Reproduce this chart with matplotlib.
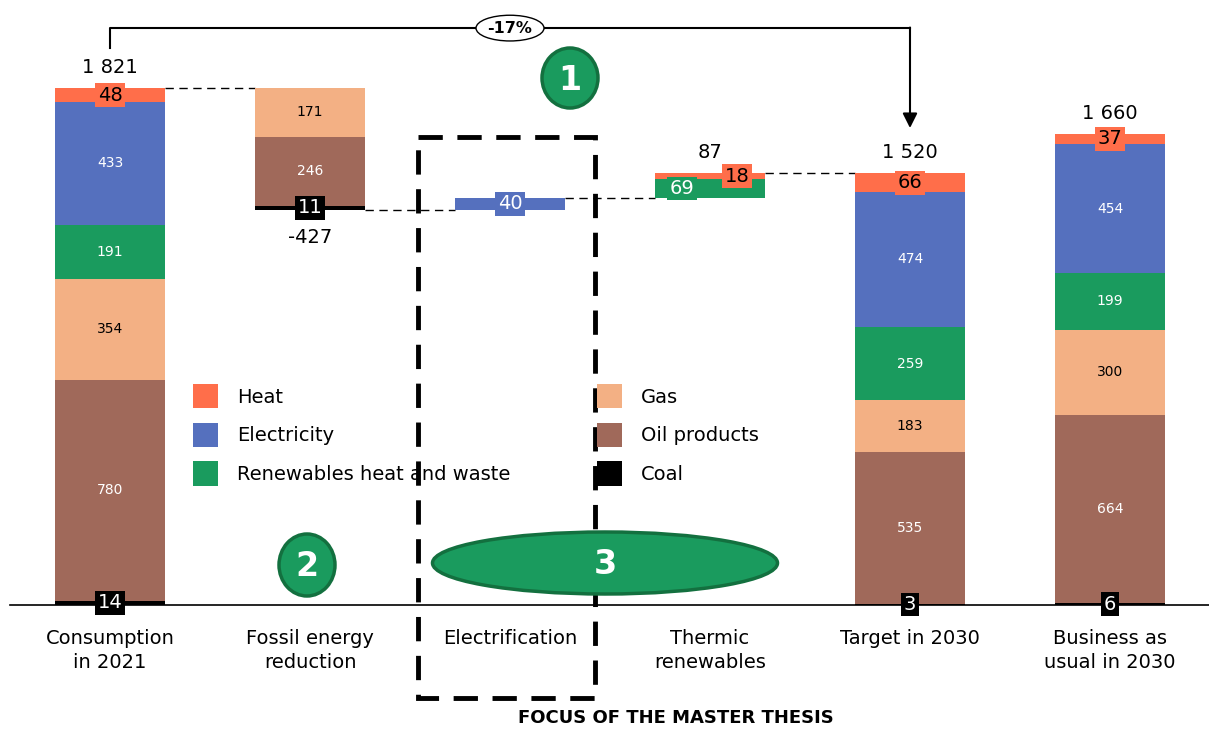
import numpy as np
import matplotlib
matplotlib.use("Agg")
import matplotlib.pyplot as plt
from matplotlib.patches import Ellipse, Rectangle, Patch

plt.rcParams["font.family"] = ["DejaVu Sans"]

#%% Datos
categorias = ["Consumption\nin 2021", "Fossil energy\nreduction", "Electrification",
              "Thermic\nrenewables", "Target in 2030", "Business as\nusual in 2030"]
fuentes = ["Coal", "Oil products", "Gas", "Renewables heat and waste", "Electricity", "Heat"]
colores = ["#000000", "#A0695A", "#F3B084", "#1A9B5E", "#5570BE", "#FF6E4A"]

# valores por fuente (orden de fuentes, de abajo hacia arriba)
consumo_2021 = [14, 780, 354, 191, 433, 48]
reduccion_fosil = [11, 246, 171, 0, 0, 0]
electrificacion = [0, 0, 0, 0, 40, 0]
renovables_termicas = [0, 0, 0, 69, 0, 18]
objetivo_2030 = [3, 535, 183, 259, 474, 66]
bau_2030 = [6, 664, 300, 199, 454, 37]

totales = [1821, -427, None, 87, 1520, 1660]
variacion = "-17%"

barras = [consumo_2021, reduccion_fosil, electrificacion, renovables_termicas, objetivo_2030, bau_2030]

#%% Niveles del waterfall
nivel = totales[0]
base_fosil = nivel - sum(reduccion_fosil)
base_elec = base_fosil
base_term = base_elec + sum(electrificacion)
bases = [0, base_fosil, base_elec, base_term, 0, 0]

#%% Grafico
fig = plt.figure(figsize=(12.09, 7.29), dpi=100)
ax = fig.add_axes([0, 0, 1, 1])
ax.set_xlim(-0.55, 5.495)
ax.set_ylim(-437, 2131)
ax.axis("off")

ancho = 0.55
texto_blanco = {1: "white", 2: "black", 3: "white", 4: "white"}
# desplazamiento horizontal de etiquetas en la barra de renovables termicas
desplazamiento = {(3, 3): -0.14, (3, 5): 0.135}

for i, valores in enumerate(barras):
    b = bases[i]
    for j, v in enumerate(valores):
        if v == 0:
            continue
        ax.bar(i, v, bottom=b, width=ancho, color=colores[j], edgecolor="none", zorder=2)
        yc = b + v / 2
        if v >= 100:
            ax.text(i, yc, str(v), ha="center", va="center", fontsize=10,
                    color=texto_blanco[j], zorder=4)
        else:
            color_txt = "black" if j == 5 else "white"
            ax.text(i + desplazamiento.get((i, j), 0), yc, str(v), ha="center", va="center",
                    fontsize=14, color=color_txt, zorder=5,
                    bbox=dict(boxstyle="square,pad=0.12", fc=colores[j], ec="none"))
        b += v

# totales
for i, t in enumerate(totales):
    if t is None:
        continue
    txt = f"{t:,}".replace(",", " ")
    if t > 0:
        top = bases[i] + sum(barras[i])
        if i == 0:
            top = t
        ax.annotate(txt, (i, top), xytext=(0, 8), textcoords="offset points",
                    ha="center", va="bottom", fontsize=14)
    else:
        ax.annotate(txt, (i, bases[i]), xytext=(0, -13), textcoords="offset points",
                    ha="center", va="top", fontsize=14)

# conectores
niveles = [totales[0], base_fosil, base_term, base_term + sum(renovables_termicas)]
for i, y in enumerate(niveles):
    ax.plot([i + ancho / 2, i + 1 - ancho / 2], [y, y], color="black", lw=1,
            ls=(0, (6, 4)), zorder=1)

# linea base
ax.plot([-0.5, 5.5], [0, 0], color="black", lw=1.2, zorder=3)

# categorias
for i, c in enumerate(categorias):
    ax.text(i, -85, c, ha="center", va="top", fontsize=14, linespacing=1.3)

# flecha -17%
ax.plot([0, 0, 4], [1962, 2032, 2032], color="black", lw=1.5)
ax.annotate("", xy=(4, 1680), xytext=(4, 2034),
            arrowprops=dict(arrowstyle="-|>", lw=1.5, color="black", mutation_scale=22,
                            shrinkA=0, shrinkB=0))
ax.text(2.0, 2032, variacion, ha="center", va="center", fontsize=11.5, fontweight="bold",
        bbox=dict(boxstyle="ellipse,pad=0.1", fc="white", ec="black", lw=1))

#%% Capa de anotaciones (pixeles)
ov = fig.add_axes([0, 0, 1, 1])
ov.set_xlim(0, 1209)
ov.set_ylim(729, 0)
ov.axis("off")
ov.patch.set_alpha(0)

ov.add_patch(Rectangle((418, 137), 177, 561, fill=False, ec="black", lw=3.5,
                       ls=(0, (5, 3)), zorder=1))
ov.text(676, 718, "FOCUS OF THE MASTER THESIS", ha="center", va="center",
        fontsize=13, fontweight="bold")

verde = "#1A9B5E"
borde = "#13703F"
for (x, y, w, h, n) in [(570, 78, 56, 60, "1"), (307, 565, 56, 62, "2"), (605, 563, 345, 62, "3")]:
    ov.add_patch(Ellipse((x, y), w, h, fc=verde, ec=borde, lw=2.5, zorder=6))
    ov.text(x, y + 2, n, ha="center", va="center", fontsize=24, fontweight="bold",
            color="white", zorder=7)

# leyenda
h = [Patch(facecolor=colores[j], label=fuentes[j]) for j in range(6)]
kw = dict(frameon=False, fontsize=14, handlelength=1.3, handleheight=1.55,
          handletextpad=0.95, labelspacing=0.74, borderpad=0, borderaxespad=0,
          loc="upper left", bbox_transform=ov.transData)
leg1 = ov.legend(handles=[h[5], h[4], h[3]], bbox_to_anchor=(193, 384), **kw)
ov.add_artist(leg1)
ov.legend(handles=[h[2], h[1], h[0]], bbox_to_anchor=(597, 384), **kw)

fig.savefig("out.png", dpi=100)
